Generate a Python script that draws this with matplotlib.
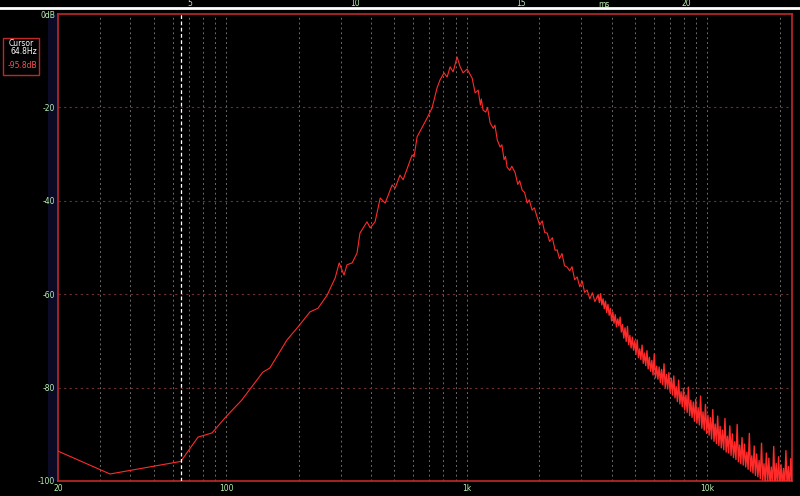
import numpy as np
import matplotlib.pyplot as plt
from matplotlib.patches import Rectangle

# spectrum, lower part (read point by point)
freq = [20, 32.9, 64.8, 76.4, 87.4, 100, 116, 142, 152, 179, 199, 223, 241, 263, 284, 295,
        309, 318, 334, 350, 360, 385, 397, 416, 437, 458, 490, 504, 528, 544, 593, 604,
        622, 684, 718, 753, 775, 805, 829, 853, 878, 912, 939, 966, 1004, 1053, 1084, 1116,
        1140, 1150, 1170, 1200, 1220, 1251, 1290, 1310, 1340, 1377, 1400, 1430, 1450, 1472,
        1510, 1540, 1590, 1630, 1660, 1700, 1740, 1784, 1820, 1870, 1910, 1962, 2010, 2060,
        2110, 2160, 2210, 2270, 2330, 2376, 2430, 2490, 2550, 2615, 2680, 2740, 2810, 2878,
        2950, 3020, 3090, 3166, 3250, 3330, 3410, 3485]
level = [-93.6, -98.5, -95.8, -90.6, -89.7, -86.2, -82.7, -76.7, -75.8, -69.8, -67.0, -63.8,
         -63.0, -60.2, -56.5, -53.3, -55.9, -53.7, -53.3, -51.2, -46.9, -44.5, -45.8, -44.5,
         -39.4, -40.5, -36.6, -37.3, -34.5, -35.5, -30.2, -30.6, -26.3, -22.3, -20.1, -15.8,
         -14.1, -12.6, -13.5, -11.3, -12.4, -9.2, -11.3, -12.6, -11.8, -13.7, -16.9, -16.3,
         -19.5, -18.2, -20.6, -21.0, -20.0, -23.3, -24.5, -23.8, -27.0, -28.5, -28.0, -31.2,
         -30.5, -32.8, -33.5, -32.6, -34.0, -36.5, -35.7, -37.7, -38.2, -40.5, -39.8, -42.0,
         -41.5, -43.5, -45.2, -44.3, -46.8, -46.9, -48.7, -47.9, -50.6, -50.5, -52.4, -51.3,
         -53.9, -54.2, -55.0, -54.1, -56.9, -56.3, -58.4, -57.2, -59.6, -59.1, -61.0, -59.7,
         -61.6, -60.6]

# noisy upper part, 3.5k .. 22.5k
hf_start, hf_stop = 3520, 22500
hf_level = [
    -60.2, -61.8, -59.9, -62.3, -61.0, -63.1, -61.5, -63.9, -62.2, -64.5,
    -63.1, -65.7, -63.8, -66.2, -64.4, -67.0, -65.3, -66.8, -64.9, -68.1,
    -66.5, -69.4, -67.2, -70.1, -66.9, -70.8, -68.8, -71.5, -69.2, -72.0,
    -70.0, -72.9, -69.8, -73.6, -71.7, -74.0, -70.9, -74.8, -72.6, -75.3,
    -72.1, -76.0, -73.5, -76.5, -74.2, -77.3, -72.8, -77.9, -75.4, -78.2,
    -75.6, -78.9, -76.1, -79.4, -74.9, -80.0, -77.2, -80.3, -76.8, -81.0,
    -78.0, -81.6, -77.5, -82.2, -79.8, -83.0, -78.4, -83.5, -80.9, -84.1,
    -80.2, -84.8, -81.6, -85.3, -79.9, -86.0, -82.7, -86.4, -83.1, -87.2,
    -82.5, -87.6, -84.3, -88.0, -81.8, -88.7, -85.2, -89.1, -83.6, -89.8,
    -85.9, -90.2, -86.4, -91.0, -84.7, -91.5, -87.8, -92.0, -86.1, -92.4,
    -88.3, -92.9, -89.1, -93.3, -86.6, -93.8, -90.4, -94.0, -88.2, -94.5,
    -89.9, -95.0, -91.6, -95.4, -87.9, -95.9, -92.3, -96.3, -90.7, -96.6,
    -92.1, -97.0, -93.8, -97.5, -89.8, -97.9, -94.6, -98.3, -92.5, -98.8,
    -94.2, -99.1, -95.6, -99.5, -91.9, -99.8, -96.3, -100.4, -94.0, -100.6,
    -95.1, -100.8, -97.0, -101.0, -92.6, -101.2, -96.2, -101.0, -94.8, -101.3,
    -96.5, -101.1, -97.3, -101.4, -93.5, -101.2, -96.9, -101.5, -95.2, -101.0,
]

x_ticks = [20, 100, 1000, 10000]
x_labels = ['20', '100', '1k', '10k']
y_ticks = [0, -20, -40, -60, -80, -100]
y_labels = ['0dB', '-20', '-40', '-60', '-80', '-100']
ms_ticks = [5, 10, 15, 20]

cursor_f = 64.8
cursor_db = -95.8

GREEN = '#b8f0b0'
FRAME = '#c02828'
TRACE = '#ff2a2a'

hf_freq = np.geomspace(hf_start, hf_stop, len(hf_level))

fig = plt.figure(figsize=(8, 4.96), dpi=100, facecolor='black')

# dark blue strip left of the frame (drawn first so the labels sit on top)
strip = fig.add_axes([48 / 800, 15 / 496, 10 / 800, 467 / 496])
strip.set_facecolor('#0b0b26')
strip.set_xticks([])
strip.set_yticks([])
for s in strip.spines.values():
    s.set_visible(False)

ax = fig.add_axes([58 / 800, 15 / 496, 734 / 800, 467 / 496])
ax.set_facecolor('black')
ax.set_xscale('log')
ax.set_xlim(20, 22500)
ax.set_ylim(-100, 0)

minor = [m * d for d in [10, 100, 1000, 10000] for m in range(2, 10) if 20 < m * d < 22500]
for f in minor + [100, 1000, 10000]:
    ax.axvline(f, color='#6a6a6a', lw=0.7, ls=(0, (2, 3)), zorder=1)
for y in [-20, -40, -60, -80]:
    ax.axhline(y, color='#6e3030', lw=0.8, ls=(0, (2, 3)), zorder=1)

ax.plot(freq, level, color=TRACE, lw=0.8, zorder=3)
ax.plot(np.concatenate([[freq[-1]], hf_freq]), np.concatenate([[level[-1]], hf_level]),
        color=TRACE, lw=1.0, zorder=3)
ax.axvline(cursor_f, color='white', lw=0.9, ls=(0, (3, 2)), zorder=4)

ax.set_xticks(x_ticks)
ax.set_xticklabels(x_labels)
ax.set_xticks([], minor=True)
ax.set_yticks(y_ticks)
ax.set_yticklabels(y_labels)
ax.tick_params(colors=GREEN, labelsize=5.5, length=0, pad=2)
for s in ax.spines.values():
    s.set_color(FRAME)
    s.set_linewidth(1.2)

# time strip on top
top = fig.add_axes([0, 488 / 496, 1, 8 / 496])
top.set_facecolor('black')
top.set_xlim(-24.5 / 33.1, 775.5 / 33.1)
top.set_ylim(0, 1)
for s in ['top', 'left', 'right']:
    top.spines[s].set_visible(False)
top.spines['bottom'].set_color('white')
top.spines['bottom'].set_linewidth(2)
top.set_xticks([])
top.set_yticks([])
for t in ms_ticks:
    top.text(t, 0.55, str(t), color=GREEN, fontsize=5.5, ha='center', va='center')
top.text(17.5, 0.45, 'ms', color=GREEN, fontsize=5.5, ha='center', va='center')

# cursor readout box
fig.patches.append(Rectangle((3 / 800, 1 - 75 / 496), 36 / 800, 37 / 496, transform=fig.transFigure,
                             facecolor='black', edgecolor=FRAME, lw=1))
fig.text(9 / 800, 1 - 44 / 496, 'Cursor', color='white', fontsize=5.5, va='center')
fig.text(37 / 800, 1 - 52 / 496, f'{cursor_f}Hz', color='white', fontsize=5.5, va='center', ha='right')
fig.text(37 / 800, 1 - 65 / 496, f'{cursor_db}dB', color='#ff5050', fontsize=5.5, va='center', ha='right')

fig.savefig('out.png', dpi=100, facecolor='black')
